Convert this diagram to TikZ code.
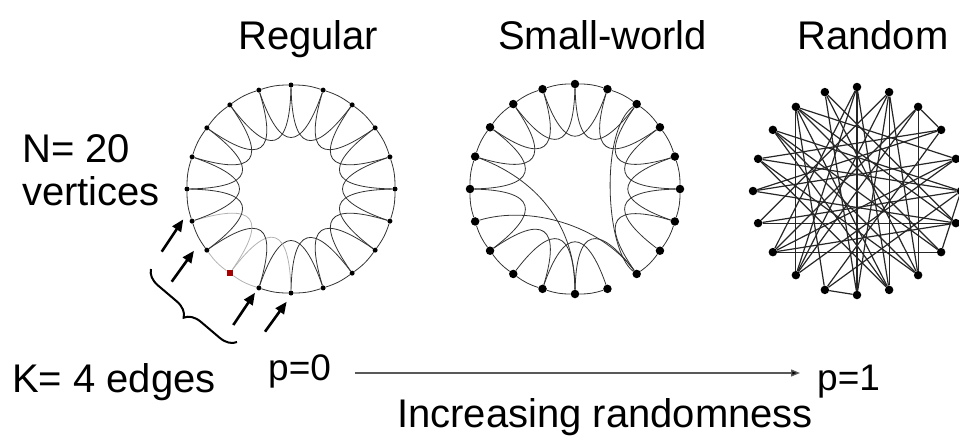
\documentclass[tikz,border=0pt]{standalone}
\usepackage{fontspec}
\setmainfont{Liberation Sans}
\usetikzlibrary{arrows.meta,decorations.pathreplacing,calc}
\begin{document}
\begin{tikzpicture}[x=1pt,y=-1pt,
  dotR/.style={circle,fill=black,inner sep=0pt,minimum size=5pt},
  dotS/.style={circle,fill=black,inner sep=0pt,minimum size=8.5pt},
  rednode/.style={rectangle,fill=red!65!black,inner sep=0pt,minimum size=6.5pt},
  edge/.style={line width=0.8pt,draw=black!80},
  redge/.style={line width=0.8pt,draw=black!30},
  redgeR/.style={line width=1.2pt,draw=black!85},
  lbl/.style={inner sep=0pt,anchor=base west,font=\fontsize{40}{46}\selectfont},
  plbl/.style={inner sep=0pt,anchor=base west,font=\fontsize{37}{42}\selectfont},
  pointer/.style={line width=2.6pt,-{Triangle[length=12pt,width=10pt]}},
  axis/.style={line width=1.3pt,draw=black!65,-{Triangle[length=9pt,width=7pt,fill=black]}},
  bracestyle/.style={line width=2pt,decorate,decoration={brace,amplitude=16pt}},
]
\useasboundingbox (0,0) rectangle (959,437);

% ---------------- centres ----------------
\coordinate (RC) at (291,189);
\coordinate (SC) at (575,189);
\coordinate (QC) at (857,191);

% ---------------- regular ring ----------------
\foreach \k in {0,...,19}{
  \pgfmathsetmacro\a{90-18*\k}
  \ifnum\k=12
    \node[rednode] (R\k) at ([shift={(\a:104pt)}]RC) {};
  \else
    \node[dotR] (R\k) at ([shift={(\a:104pt)}]RC) {};
  \fi
}
\foreach \k in {0,...,19}{
  \pgfmathtruncatemacro\i{mod(\k+1,20)}
  \pgfmathtruncatemacro\j{mod(\k+2,20)}
  \pgfmathsetmacro\b{90-18*\k-2}
  \pgfmathsetmacro\c{90-18*\k-34}
  \def\st{edge}
  \ifnum\k=12 \def\st{redge}\fi
  \ifnum\i=12 \def\st{redge}\fi
  \draw[\st] (R\k) to[bend left=9] (R\i);
  \def\st{edge}
  \ifnum\k=12 \def\st{redge}\fi
  \ifnum\j=12 \def\st{redge}\fi
  \draw[\st] (R\k) .. controls ([shift={(\b:38pt)}]RC) and ([shift={(\c:38pt)}]RC) .. (R\j);
}

% ---------------- small-world ring ----------------
\foreach \k in {0,...,19}{
  \pgfmathsetmacro\a{90-18*\k}
  \node[dotS] (S\k) at ([shift={(\a:105pt)}]SC) {};
}
\foreach \k in {0,...,19}{
  \pgfmathtruncatemacro\i{mod(\k+1,20)}
  \pgfmathtruncatemacro\j{mod(\k+2,20)}
  \pgfmathsetmacro\b{90-18*\k-2}
  \pgfmathsetmacro\c{90-18*\k-34}
  \ifnum\k=8 \else
    \draw[edge] (S\k) to[bend left=9] (S\i);
  \fi
  \ifnum\k=14 \else\ifnum\k=12 \else\ifnum\k=7 \else
    \draw[edge] (S\k) .. controls ([shift={(\b:40pt)}]SC) and ([shift={(\c:40pt)}]SC) .. (S\j);
  \fi\fi\fi
}
\draw[edge] (S16) .. controls (525,175) and (575,215) .. (S10);
\draw[edge] (S14) .. controls (530,205) and (600,225) .. (S8);
\draw[edge] (S8) .. controls (605,250) and (600,130) .. (S2);

% ---------------- random graph ----------------
\foreach \k in {0,...,19}{
  \pgfmathsetmacro\a{90-18*\k}
  \node[dotS] (Q\k) at ([shift={(\a:104pt)}]QC) {};
}
\foreach \u/\v in {0/9,0/12,1/8,1/14,2/12,2/13,3/11,3/15,4/13,4/18,5/16,5/17,
  6/13,6/19,7/17,7/18,8/16,8/2,9/18,9/1,10/0,10/1,11/18,11/5,12/1,12/4,13/0,13/7,
  14/5,14/6,15/4,15/6,16/3,16/9,17/8,17/9,18/6,18/12,19/8,19/10,2/3,5/7,10/11}{
  \draw[redgeR] (Q\u) -- (Q\v);
}

% ---------------- labels ----------------
\node[lbl] (reg) at (238,49) {Regular};
\node[lbl] (sw) at (498,49) {Small-world};
\node[lbl] (rnd) at (797,49) {Random};
\node[lbl] (n20) at (22,162) {N= 20};
\node[lbl] (vert) at (22,205) {vertices};
\node[lbl] (k4) at (12,392) {K= 4 edges};
\node[plbl] (p0) at (268,380) {p=0};
\node[plbl] (p1) at (817,390) {p=1};
\node[lbl] (inc) at (397,427) {Increasing randomness};

% ---------------- pointers and brace ----------------
\coordinate (t1) at (161.7,251.7); \coordinate (h1) at (183.3,219.3);
\coordinate (t2) at (171.7,281.7); \coordinate (h2) at (194,250.7);
\coordinate (t3) at (233.3,325);   \coordinate (h3) at (255,292.7);
\coordinate (t4) at (265,331.7);   \coordinate (h4) at (286.7,301.7);
\draw[pointer] (t1) -- (h1);
\draw[pointer] (t2) -- (h2);
\draw[pointer] (t3) -- (h3);
\draw[pointer] (t4) -- (h4);
\coordinate (bA) at (237,342);
\coordinate (bB) at (151,269);
\draw[bracestyle] (bA) -- (bB);

% ---------------- p axis ----------------
\coordinate (ax0) at (355,373);
\coordinate (ax1) at (800,373);
\draw[axis] (ax0) -- (ax1);
\end{tikzpicture}
\end{document}
